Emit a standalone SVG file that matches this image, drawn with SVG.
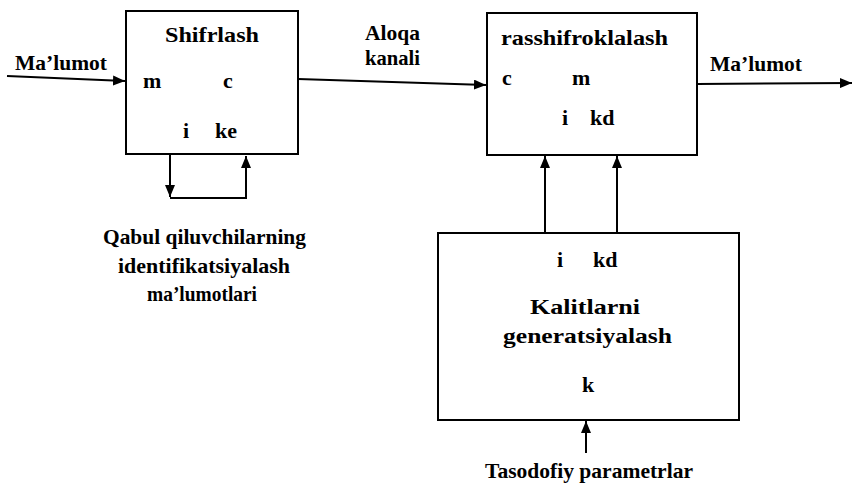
<svg xmlns="http://www.w3.org/2000/svg" width="854" height="488" viewBox="0 0 854 488">
<style>
.box{fill:#fff;stroke:#000;stroke-width:2}
.ln{fill:none;stroke:#000;stroke-width:2}
text{font-family:"Liberation Serif","Times New Roman",serif;font-weight:bold;font-size:22px;fill:#000}
</style>
<defs>
<marker id="ah" viewBox="0 0 10 10" refX="10" refY="5" markerWidth="12" markerHeight="10" markerUnits="userSpaceOnUse" orient="auto" preserveAspectRatio="none">
<path d="M0,0 L10,5 L0,10 Z" fill="#000"/>
</marker>
</defs>
<g id="connectors">
<path class="ln" d="M7,76 L125,81" marker-end="url(#ah)"/>
<path class="ln" d="M298,79 L486,85" marker-end="url(#ah)"/>
<path class="ln" d="M697,84 L852,83" marker-end="url(#ah)"/>
<path class="ln" d="M170,154 L170,197" marker-end="url(#ah)"/>
<path class="ln" d="M170,198 L246,198 L246,156" marker-end="url(#ah)"/>
<path class="ln" d="M545,233 L545,156" marker-end="url(#ah)"/>
<path class="ln" d="M617,233 L617,156" marker-end="url(#ah)"/>
<path class="ln" d="M586,453 L586,421" marker-end="url(#ah)"/>
</g>
<g id="edge-labels">
<text x="15" y="70" textLength="92" lengthAdjust="spacingAndGlyphs">Ma’lumot</text>
<text x="365" y="40" textLength="55" lengthAdjust="spacingAndGlyphs">Aloqa</text>
<text x="365" y="65" textLength="55" lengthAdjust="spacingAndGlyphs">kanali</text>
<text x="710" y="71" textLength="92" lengthAdjust="spacingAndGlyphs">Ma’lumot</text>
</g>
<g id="shifrlash">
<rect class="box" x="126" y="11" width="172" height="143"/>
<text x="165" y="42" textLength="94" lengthAdjust="spacingAndGlyphs">Shifrlash</text>
<text x="143" y="88">m</text>
<text x="223" y="88">c</text>
<text x="183" y="138">i</text>
<text x="215" y="138">ke</text>
</g>
<g id="rasshifroklalash">
<rect class="box" x="487" y="13" width="210" height="142"/>
<text x="501" y="45" textLength="167" lengthAdjust="spacingAndGlyphs">rasshifroklalash</text>
<text x="502" y="85">c</text>
<text x="572" y="85">m</text>
<text x="562" y="125">i</text>
<text x="590" y="125">kd</text>
</g>
<g id="kalit">
<rect class="box" x="438" y="233" width="301" height="187"/>
<text x="557" y="267">i</text>
<text x="593" y="267">kd</text>
<text x="530" y="314" textLength="110" lengthAdjust="spacingAndGlyphs">Kalitlarni</text>
<text x="503" y="343" textLength="169" lengthAdjust="spacingAndGlyphs">generatsiyalash</text>
<text x="582" y="392">k</text>
</g>
<g id="labels">
<text x="103" y="244" textLength="203" lengthAdjust="spacingAndGlyphs">Qabul qiluvchilarning</text>
<text x="118" y="273" textLength="172" lengthAdjust="spacingAndGlyphs">identifikatsiyalash</text>
<text x="147" y="301" textLength="110" lengthAdjust="spacingAndGlyphs">ma’lumotlari</text>
<text x="485" y="478" textLength="208" lengthAdjust="spacingAndGlyphs">Tasodofiy parametrlar</text>
</g>
</svg>
